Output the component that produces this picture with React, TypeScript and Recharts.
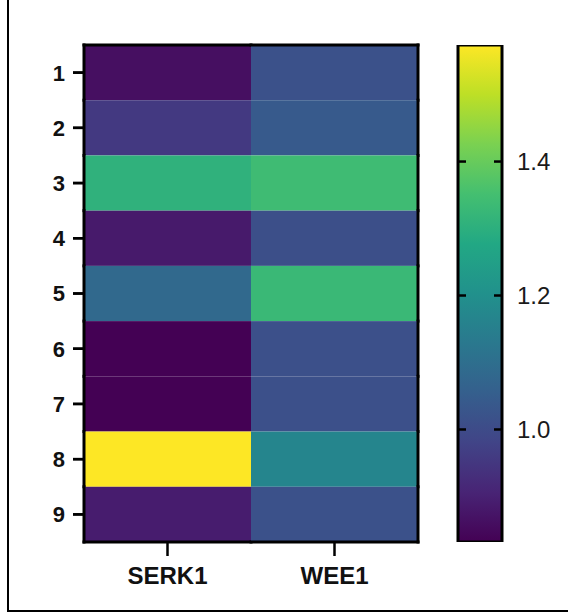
import React from 'react';
import { BarChart, Bar, XAxis, YAxis, Cell } from 'recharts';

const genes = ['SERK1', 'WEE1'];
const rowLabels = ['1', '2', '3', '4', '5', '6', '7', '8', '9'];
const serk1Values = [0.862, 0.955, 1.307, 0.884, 1.084, 0.832, 0.832, 1.574, 0.89];
const wee1Values = [1.017, 1.04, 1.34, 1.01, 1.329, 1.014, 1.014, 1.166, 1.015];
const colorbarTicks = [1.0, 1.2, 1.4];
const colorMin = 0.832;
const colorMax = 1.574;

const VIRIDIS = ['#440154', '#482475', '#414487', '#355f8d', '#2a788e', '#21918c', '#22a884', '#44bf70', '#7ad151', '#bddf26', '#fde725'];

function hexToRgb(h: string) {
  return [parseInt(h.slice(1, 3), 16), parseInt(h.slice(3, 5), 16), parseInt(h.slice(5, 7), 16)];
}
function viridis(t: number) {
  const c = Math.max(0, Math.min(1, t)) * (VIRIDIS.length - 1);
  const i = Math.min(Math.floor(c), VIRIDIS.length - 2);
  const f = c - i;
  const a = hexToRgb(VIRIDIS[i]);
  const b = hexToRgb(VIRIDIS[i + 1]);
  const m = a.map((v, k) => Math.round(v + (b[k] - v) * f));
  return `rgb(${m[0]},${m[1]},${m[2]})`;
}
const colorOf = (v: number) => viridis((v - colorMin) / (colorMax - colorMin));

const geneValues: Record<string, number[]> = { SERK1: serk1Values, WEE1: wee1Values };
const chartData = genes.map((g) => {
  const row: Record<string, any> = { gene: g, cbKey: 'scale', scale: [colorMin, colorMax] };
  rowLabels.forEach((r) => { row[r] = 1; });
  return row;
});
const rowTicks = rowLabels.map((_, i) => i + 0.5);

const FONT = '"Liberation Sans", Arial, sans-serif';

// styling constants
const CHART_W = 568;
const CHART_H = 613;
const Y_AXIS_W = 84;
const Y_TICK_SIZE = 11;
const Y_TICK_MARGIN = 8;
const CB_AXIS_W = 66;
const CB_WIDTH = 44;
const CB_GAP = 40;
const CB_TICK_MARGIN = 15;
const CB_TICK_LEN = 8;
const BORDER = 3;

const RowTick = (props: any) => {
  const y = Number(props.y);
  const right = Y_AXIS_W;
  const textX = right - Y_TICK_SIZE - Y_TICK_MARGIN;
  return (
    <g>
      <path d={`M${right - Y_TICK_SIZE},${y}H${right}`} stroke="#000" strokeWidth={2.5} fill="none" />
      <text x={textX} y={y} dy="0.36em" textAnchor="end" fill="#111" fontSize={22} fontWeight={700} fontFamily={FONT}>
        {rowLabels[Math.floor(props.payload.value)]}
      </text>
    </g>
  );
};

// one heatmap cell from the bar geometry, with the outer frame edges and the row tick mark
const HeatCell = (props: any) => {
  const x = Number(props.x);
  const y0 = Number(props.y);
  const h0 = Number(props.height);
  const w = Number(props.width);
  const y = Math.min(y0, y0 + h0);
  const h = Math.abs(h0);
  const cy = y + h / 2;
  const row = props.row;
  const col = props.index;
  const edge = { stroke: '#000', strokeWidth: BORDER, strokeLinecap: 'square' as const };
  return (
    <g>
      <rect x={x} y={y} width={w} height={h} fill={props.fill} />
      {row === 0 && <line x1={x} x2={x + w} y1={y} y2={y} {...edge} />}
      {row === rowLabels.length - 1 && <line x1={x} x2={x + w} y1={y + h} y2={y + h} {...edge} />}
      {col === 0 && <line x1={x} x2={x} y1={y} y2={y + h} {...edge} />}
      {col === genes.length - 1 && <line x1={x + w} x2={x + w} y1={y} y2={y + h} {...edge} />}
      {col === 0 && <line x1={x - Y_TICK_SIZE} x2={x} y1={cy} y2={cy} stroke="#000" strokeWidth={2.5} />}
    </g>
  );
};

const ColorbarTick = (props: any) => {
  const x = Number(props.x);
  const y = Number(props.y);
  const right = x - CB_TICK_MARGIN;
  const left = right - CB_WIDTH;
  return (
    <g>
      <line x1={left} x2={left + CB_TICK_LEN} y1={y} y2={y} stroke="#000" strokeWidth={2.5} />
      <line x1={right - CB_TICK_LEN} x2={right} y1={y} y2={y} stroke="#000" strokeWidth={2.5} />
      <text x={x} y={y} dy="0.36em" textAnchor="start" fill="#1a1a1a" fontSize={24} fontFamily={FONT}>
        {Number(props.payload.value).toFixed(1)}
      </text>
    </g>
  );
};

export default function App() {
  const heatPadRight = CB_GAP + CB_WIDTH;
  const plotW = CHART_W - Y_AXIS_W - CB_AXIS_W;
  return (
    <div style={{ position: 'absolute', left: 0, top: 0, width: CHART_W, height: CHART_H, background: '#fff', overflow: 'hidden' }}>
      <div style={{ position: 'absolute', left: 7, top: -4, width: 559, height: 614, borderLeft: '2px solid #000', borderBottom: '2px solid #000' }} />
      <div style={{ position: 'absolute', left: 0, top: 0 }}>
        <BarChart width={CHART_W} height={CHART_H} data={chartData} margin={{ top: 45, right: 0, left: 0, bottom: 0 }} barCategoryGap={0} barGap={0}>
          <defs>
            <linearGradient id="viridisGrad" x1="0" y1="0" x2="0" y2="1">
              {VIRIDIS.map((c, i) => (
                <stop key={i} offset={`${(i / (VIRIDIS.length - 1)) * 100}%`} stopColor={VIRIDIS[VIRIDIS.length - 1 - i]} />
              ))}
            </linearGradient>
          </defs>
          <XAxis
            dataKey="gene"
            type="category"
            height={71}
            padding={{ left: 0, right: heatPadRight }}
            axisLine={false}
            tickSize={14}
            tickMargin={11}
            tickLine={{ stroke: '#000', strokeWidth: 2.5 }}
            tick={{ fill: '#111', fontSize: 24, fontWeight: 700, fontFamily: FONT }}
          />
          <XAxis
            xAxisId="cb"
            dataKey="cbKey"
            type="category"
            allowDuplicatedCategory={false}
            hide
            padding={{ left: plotW - CB_WIDTH, right: 0 }}
          />
          <YAxis
            yAxisId="rows"
            type="number"
            domain={[0, rowLabels.length]}
            reversed
            ticks={rowTicks}
            interval={0}
            width={Y_AXIS_W}
            axisLine={false}
            tickLine={false}
            tick={<RowTick />}
          />
          <YAxis
            yAxisId="cb"
            orientation="right"
            type="number"
            domain={[colorMin, colorMax]}
            allowDataOverflow
            ticks={colorbarTicks}
            interval={0}
            width={CB_AXIS_W}
            axisLine={false}
            tickLine={false}
            tickSize={0}
            tickMargin={CB_TICK_MARGIN}
            tick={<ColorbarTick />}
          />
          {rowLabels.map((r, ri) => (
            <Bar key={r} dataKey={r} yAxisId="rows" stackId="heat" isAnimationActive={false} shape={<HeatCell row={ri} />}>
              {genes.map((g) => (
                <Cell key={g} fill={colorOf(geneValues[g][ri])} />
              ))}
            </Bar>
          ))}
          <Bar dataKey="scale" xAxisId="cb" yAxisId="cb" fill="url(#viridisGrad)" stroke="#000" strokeWidth={BORDER} isAnimationActive={false} />
        </BarChart>
      </div>
    </div>
  );
}
